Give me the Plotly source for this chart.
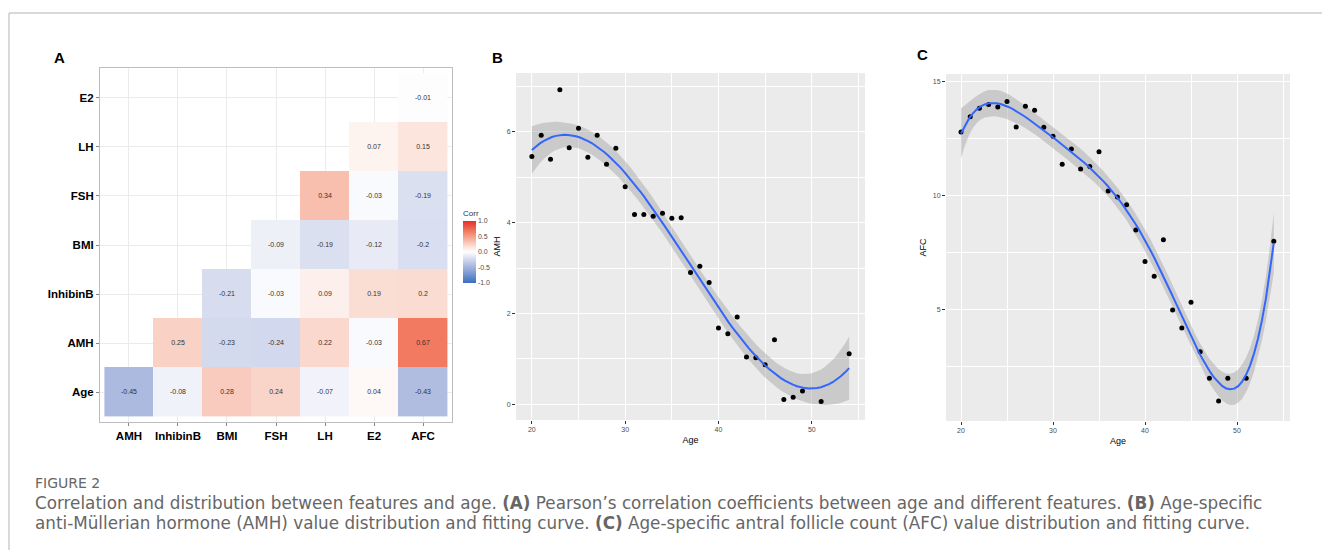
import numpy as np
import plotly.graph_objects as go

W, H = 1322, 550

# ---------------- data ----------------
corr_cols = ["AMH", "InhibinB", "BMI", "FSH", "LH", "E2", "AFC"]
corr_rows = ["Age", "AMH", "InhibinB", "BMI", "FSH", "LH", "E2"]
# lower-triangle correlation values, row by row (None = empty)
corr_age      = [-0.45, -0.08, 0.28, 0.24, -0.07, 0.04, -0.43]
corr_amh      = [None, 0.25, -0.23, -0.24, 0.22, -0.03, 0.67]
corr_inhibinb = [None, None, -0.21, -0.03, 0.09, 0.19, 0.2]
corr_bmi      = [None, None, None, -0.09, -0.19, -0.12, -0.2]
corr_fsh      = [None, None, None, None, 0.34, -0.03, -0.19]
corr_lh       = [None, None, None, None, None, 0.07, 0.15]
corr_e2       = [None, None, None, None, None, None, -0.01]

ages = [20, 21, 22, 23, 24, 25, 26, 27, 28, 29, 30, 31, 32, 33, 34, 35, 36,
        37, 38, 39, 40, 41, 42, 43, 44, 45, 46, 47, 48, 49, 51, 54]
amh = [5.46, 5.93, 5.40, 6.93, 5.65, 6.08, 5.44, 5.93, 5.29, 5.64, 4.79, 4.18,
       4.18, 4.14, 4.21, 4.10, 4.11, 2.90, 3.04, 2.68, 1.68, 1.55, 1.92, 1.04,
       1.02, 0.87, 1.42, 0.10, 0.15, 0.29, 0.06, 1.11]
afc = [12.81, 13.48, 13.85, 14.01, 13.90, 14.14, 13.03, 13.93, 13.76, 13.01,
       12.62, 11.39, 12.06, 11.18, 11.29, 11.94, 10.22, 9.96, 9.61, 8.51, 7.13,
       6.48, 8.08, 5.00, 4.21, 5.34, 3.17, 2.00, 1.01, 2.00, 2.00, 8.01]

# polynomial degree of the fitted smooth in each panel
amh_degree = 3
afc_degree = 5

# ---------------- helpers ----------------
def px_x(p):
    return p / W

def px_y(p):
    return 1 - p / H

T975 = {26: 2.056, 27: 2.052, 28: 2.048, 29: 2.045, 30: 2.042}

def poly_fit(x, y, deg, n=80):
    x = np.asarray(x, float); y = np.asarray(y, float)
    c = lambda v: (v - 37.0) / 10.0
    X = np.vander(c(x), deg + 1, increasing=True)
    beta, *_ = np.linalg.lstsq(X, y, rcond=None)
    res = y - X @ beta
    df = len(x) - (deg + 1)
    s2 = res @ res / df
    cov = s2 * np.linalg.inv(X.T @ X)
    xg = np.linspace(x.min(), x.max(), n)
    Xg = np.vander(c(xg), deg + 1, increasing=True)
    fit = Xg @ beta
    se = np.sqrt(np.einsum("ij,jk,ik->i", Xg, cov, Xg))
    t = T975.get(df, 2.05)
    return xg, fit, fit - t * se, fit + t * se

fig = go.Figure()

# ---------------- panel A: correlation heatmap ----------------
z = [corr_age, corr_amh, corr_inhibinb, corr_bmi, corr_fsh, corr_lh, corr_e2]
ztxt = [["" if v is None else ("%g" % v) for v in row] for row in z]
zz = [[np.nan if v is None else v for v in row] for row in z]
colorscale = [
    [0.0, "#3A6FC0"], [0.25, "#A3B3DC"], [0.4, "#D9DEF0"], [0.5, "#FFFFFF"],
    [0.6, "#FADCD2"], [0.75, "#F59E86"], [0.85, "#F07459"], [1.0, "#E3312A"],
]
fig.add_trace(go.Heatmap(
    z=zz, x=list(range(7)), y=list(range(7)), text=ztxt,
    texttemplate="%{text}", textfont=dict(size=7, color="#333333", family="Liberation Sans"),
    colorscale=colorscale, zmin=-1, zmax=1, xaxis="x", yaxis="y",
    hoverongaps=False,
    colorbar=dict(
        title=dict(text="Corr", font=dict(size=8, color="#333333", family="Liberation Sans"), side="top"),
        tickvals=[-1, -0.5, 0, 0.5, 1], ticktext=["-1.0", "-0.5", "0.0", "0.5", "1.0"],
        tickfont=dict(size=7, color="#4D4D4D", family="Liberation Sans"),
        thicknessmode="pixels", thickness=13, lenmode="pixels", len=76,
        x=px_x(463), xanchor="left", y=px_y(283), yanchor="bottom",
        outlinewidth=0, ticks="", ypad=0, xpad=0,
    ),
))

# ---------------- panels B and C: scatter + fitted smooth ----------------
def add_smooth(xv, yv, deg, xa, ya):
    xg, fit, lo, hi = poly_fit(xv, yv, deg)
    fig.add_trace(go.Scatter(x=xg, y=hi, mode="lines", line=dict(width=0), xaxis=xa, yaxis=ya,
                             showlegend=False, hoverinfo="skip"))
    fig.add_trace(go.Scatter(x=xg, y=lo, mode="lines", line=dict(width=0), fill="tonexty",
                             fillcolor="rgba(153,153,153,0.4)", xaxis=xa, yaxis=ya,
                             showlegend=False, hoverinfo="skip"))
    fig.add_trace(go.Scatter(x=xv, y=yv, mode="markers", marker=dict(color="black", size=5),
                             xaxis=xa, yaxis=ya, showlegend=False))
    fig.add_trace(go.Scatter(x=xg, y=fit, mode="lines", line=dict(color="#3366FF", width=2),
                             xaxis=xa, yaxis=ya, showlegend=False))

add_smooth(ages, amh, amh_degree, "x2", "y2")
add_smooth(ages, afc, afc_degree, "x3", "y3")

# ---------------- layout ----------------
tickfont_small = dict(size=7, color="#4D4D4D", family="Liberation Sans")
title_font = dict(size=9, color="black", family="Liberation Sans")
gg_common = dict(showgrid=True, gridcolor="white", gridwidth=1,
                 ticks="outside", ticklen=3, tickcolor="#333333", tickwidth=1,
                 tickfont=tickfont_small, zeroline=False, showline=False)
minor_x = dict(tickvals=[25, 35, 45, 55], showgrid=True, gridcolor="white", gridwidth=0.5)
catfont = dict(size=11.5, color="black", family="Liberation Sans", weight="bold")

fig.update_layout(
    width=W, height=H, margin=dict(l=0, r=0, t=0, b=0),
    paper_bgcolor="white", plot_bgcolor="white",
    xaxis=dict(domain=[px_x(100), px_x(452)], range=[-0.59, 6.59], tickvals=list(range(7)),
               ticktext=corr_cols, tickfont=catfont, showgrid=True, gridcolor="#EBEBEB",
               ticks="outside", ticklen=3, tickcolor="#888888", zeroline=False,
               showline=True, linecolor="#BDBDBD", linewidth=1, mirror=True, anchor="y"),
    yaxis=dict(domain=[px_y(422), px_y(68)], range=[-0.61, 6.61], tickvals=list(range(7)),
               ticktext=corr_rows, tickfont=catfont, showgrid=True, gridcolor="#EBEBEB",
               ticks="outside", ticklen=3, tickcolor="#888888", zeroline=False,
               showline=True, linecolor="#BDBDBD", linewidth=1, mirror=True, anchor="x"),
    xaxis2=dict(domain=[px_x(516), px_x(865)], range=[18.3, 55.7], tickvals=[20, 30, 40, 50],
                minor=minor_x, title=dict(text="Age", font=title_font, standoff=4), anchor="y2",
                **gg_common),
    yaxis2=dict(domain=[px_y(420), px_y(73)], range=[-0.35, 7.3], tickvals=[0, 2, 4, 6],
                minor=dict(tickvals=[1, 3, 5, 7], showgrid=True, gridcolor="white", gridwidth=0.5),
                title=dict(text="AMH", font=title_font, standoff=4), anchor="x2",
                **gg_common),
    xaxis3=dict(domain=[px_x(946), px_x(1290)], range=[18.37, 55.76], tickvals=[20, 30, 40, 50],
                minor=minor_x, title=dict(text="Age", font=title_font, standoff=4), anchor="y3",
                **gg_common),
    yaxis3=dict(domain=[px_y(421), px_y(74)], range=[0.13, 15.35], tickvals=[5, 10, 15],
                minor=dict(tickvals=[2.5, 7.5, 12.5], showgrid=True, gridcolor="white", gridwidth=0.5),
                title=dict(text="AFC", font=title_font, standoff=4), anchor="x3",
                **gg_common),
)

shapes = [
    dict(type="rect", xref="x2 domain", yref="y2 domain", x0=0, x1=1, y0=0, y1=1,
         fillcolor="#EBEBEB", line=dict(width=0), layer="below"),
    dict(type="rect", xref="x3 domain", yref="y3 domain", x0=0, x1=1, y0=0, y1=1,
         fillcolor="#EBEBEB", line=dict(width=0), layer="below"),
    dict(type="line", xref="paper", yref="paper", x0=px_x(9), x1=1, y0=px_y(13), y1=px_y(13),
         line=dict(color="#CCCCCC", width=1.5)),
    dict(type="line", xref="paper", yref="paper", x0=px_x(9), x1=px_x(9), y0=px_y(13), y1=0,
         line=dict(color="#CCCCCC", width=1.5)),
]
fig.update_layout(shapes=shapes)

panel_font = dict(size=15, color="black", family="Liberation Sans", weight="bold")
cap_font = dict(size=16.8, color="#666666", family="DejaVu Sans")
annotations = [
    dict(text="A", x=px_x(52), y=px_y(57), xanchor="left", yanchor="middle", font=panel_font),
    dict(text="B", x=px_x(490), y=px_y(57), xanchor="left", yanchor="middle", font=panel_font),
    dict(text="C", x=px_x(915), y=px_y(55), xanchor="left", yanchor="middle", font=panel_font),
    dict(text="FIGURE 2", x=px_x(33), y=px_y(483), xanchor="left", yanchor="middle",
         font=dict(size=14, color="#666666", family="DejaVu Sans")),
    dict(text="Correlation and distribution between features and age. <b>(A)</b> Pearson\u2019s correlation "
              "coefficients between age and different features. <b>(B)</b> Age-specific",
         x=px_x(33), y=px_y(503), xanchor="left", yanchor="middle", font=cap_font),
    dict(text="anti-M\u00fcllerian hormone (AMH) value distribution and fitting curve. <b>(C)</b> Age-specific "
              "antral follicle count (AFC) value distribution and fitting curve.",
         x=px_x(33), y=px_y(523), xanchor="left", yanchor="middle", font=cap_font),
]
for a in annotations:
    a.update(xref="paper", yref="paper", showarrow=False)
fig.update_layout(annotations=annotations)

fig.write_html("out.html")
